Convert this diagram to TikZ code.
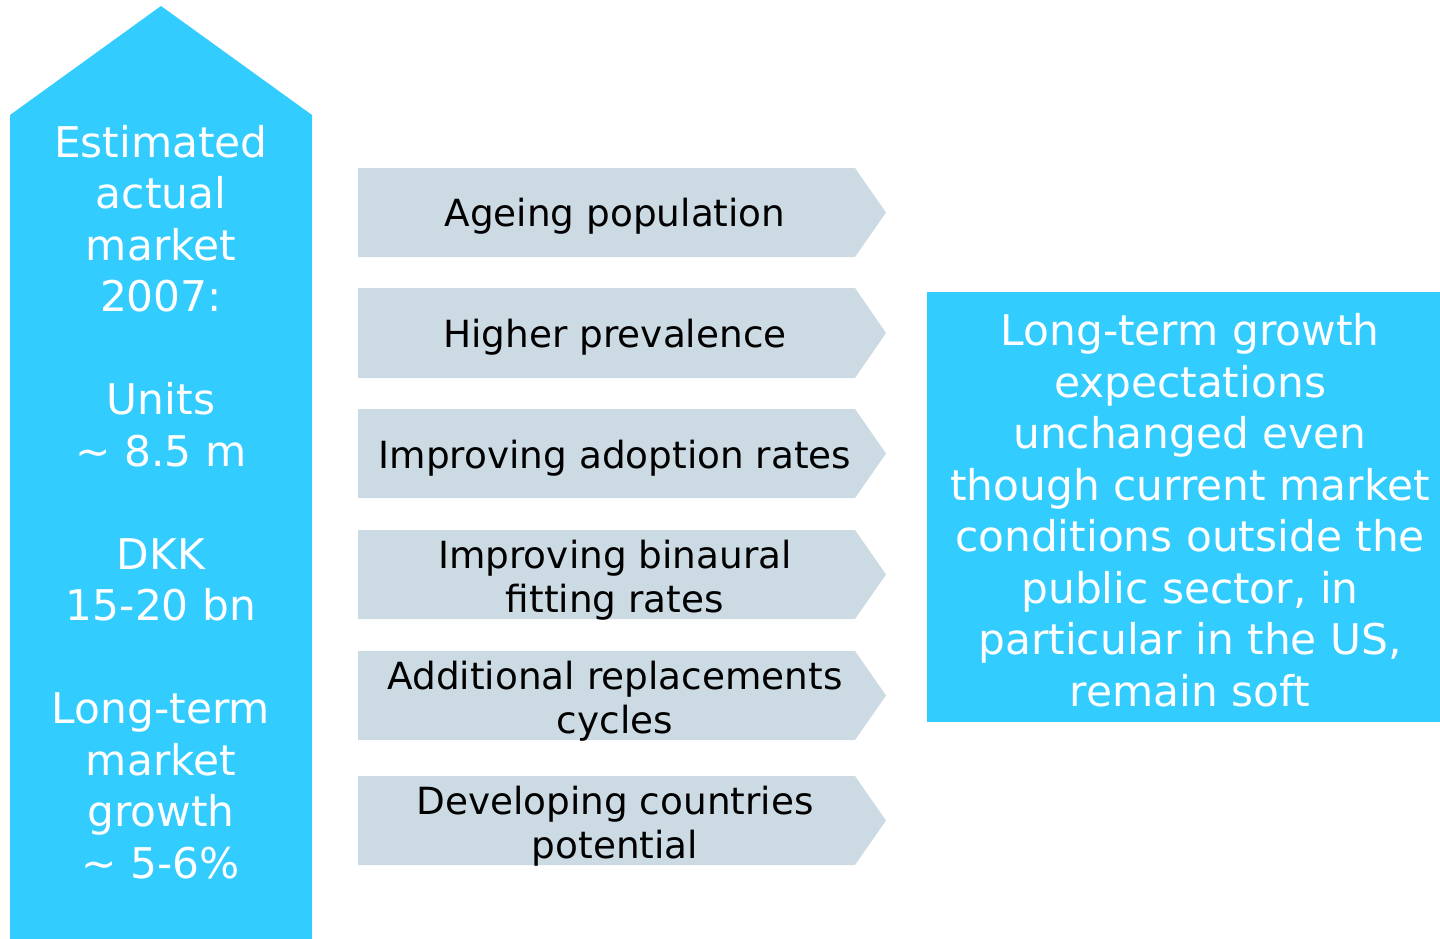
\documentclass[tikz,border=0pt]{standalone}
\usepackage{fontspec}
\setmainfont{DejaVu Sans}
\definecolor{skyblue}{HTML}{33CCFF}
\definecolor{driverfill}{HTML}{CCDAE3}
\begin{document}
\begin{tikzpicture}[x=1pt,y=-1pt,
  bigtext/.style={text=white,align=center,inner sep=0pt,
    font=\fontsize{42.3}{51.5}\selectfont},
  drivertext/.style={text=black,align=center,inner sep=0pt,
    font=\fontsize{37.4}{44}\selectfont},
  drivershape/.style={fill=driverfill,draw=none}]
\useasboundingbox (0,0) rectangle (1440,939);

% tall upward arrow on the left
\fill[skyblue] (10,115) -- (161,6) -- (312,115) -- (312,939) -- (10,939) -- cycle;
\node[bigtext] (market) at (161,502)
  {Estimated\\actual\\market\\2007:\\[51.5pt]Units\\\textasciitilde{} 8.5 m\\[51.5pt]DKK\\15-20 bn\\[51.5pt]Long-term\\market\\growth\\\textasciitilde{} 5-6\%};

% growth drivers as chevrons
\foreach \top/\bot in {168/257,288/378,409/498,530/619,651/740,776/865}{
  \path[drivershape] (358,\top) -- (855,\top) -- (886,{(\top+\bot)/2}) -- (855,\bot) -- (358,\bot) -- cycle;
}
\node[drivertext] (d1) at (615,216) {Ageing population};
\node[drivertext] (d2) at (615,337) {Higher prevalence};
\node[drivertext] (d3) at (615,458) {Improving adoption rates};
\node[drivertext] (d4) at (615,580) {Improving binaural\\fitting rates};
\node[drivertext] (d5) at (615,701) {Additional replacements\\cycles};
\node[drivertext] (d6) at (615,826) {Developing countries\\potential};

% outlook box on the right
\fill[skyblue] (927,292) rectangle (1440,722);
\node[bigtext] (outlook) at (1190,510)
  {Long-term growth\\expectations\\unchanged even\\though current market\\conditions outside the\\public sector, in\\particular in the US,\\remain soft};
\end{tikzpicture}
\end{document}
